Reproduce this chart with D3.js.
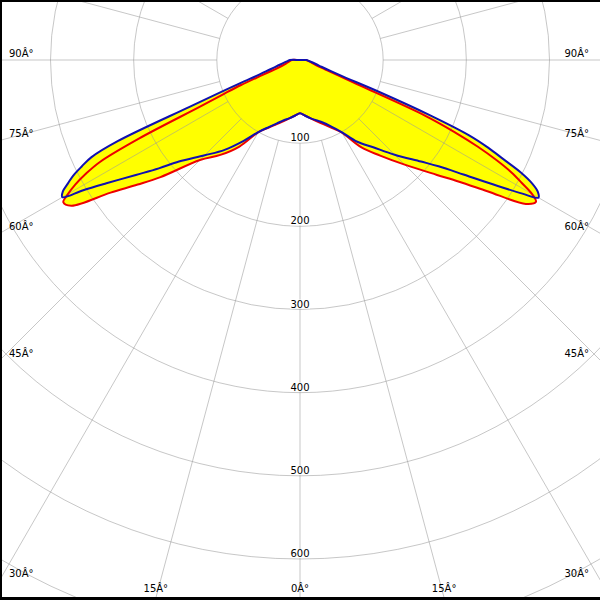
<!DOCTYPE html>
<html>
<head>
<meta charset="utf-8">
<script src="https://cdn.jsdelivr.net/npm/d3@7/dist/d3.min.js"></script>
<style>
  html, body { margin: 0; padding: 0; background: #fff; }
  svg { display: block; }
  text { font-family: "DejaVu Sans", sans-serif; font-size: 10px; fill: #000; }
</style>
</head>
<body>
<div id="chart"></div>
<script>
// Vertical angles (gamma, degrees from nadir)
const gammaAngles = [0,5,10,15,20,25,30,35,40,45,50,52.5,55,57.5,59,60,61,62,63,64,65,66,67,68,69,70,72.5,75,80,85,90,180];
// Blue curve (C0 plane on the right, C180 on the left), cd
const c0Values   = [64,67,71,75,80,88,100,120,137,161,190,210,240,282,312,331,327,316,298,272,250,222,168,105,55,41,27,21,14,10,8,0];
const c180Values = [64,67,71,75,81,89,100,119,141,162,190,214,241,276,304,330,326,316,306,292,277,240,145,100,72,55,38,29,20,15,12,0];
// Red curve (C90 plane on the right, C270 on the left), cd
const c90Values  = [64,67,71,76,82,90,101,128,150,178,215,240,275,322,331,322,305,288,265,238,205,165,75,48,35,28,20,16,12,9,7,0];
const c270Values = [64,67,71,76,82,90,100,127,149,170,219,246,278,326,332,322,309,292,270,215,132,100,77,52,37,30,22,18,14,12,10,0];
// Grid
const ringValues = [100,200,300,400,500,600,700];
const ringLabels = ["100","200","300","400","500","600"];
const angleTicks = [0,15,30,45,60,75,90];
const angleLabels = ["0Â°","15Â°","30Â°","45Â°","60Â°","75Â°","90Â°"];

const W = 600, H = 600, cx = 300, cy = 60, bottom = 598;
const rScale = d3.scaleLinear().domain([0, 600]).range([0, 499]);
const rad = d => d * Math.PI / 180;

const svg = d3.select("#chart").append("svg").attr("width", W).attr("height", H);
svg.append("rect").attr("width", W).attr("height", H).attr("fill", "#fff");
svg.append("defs").append("clipPath").attr("id", "clip")
  .append("rect").attr("x", 0).attr("y", 0).attr("width", W).attr("height", bottom);

const plot = svg.append("g").attr("clip-path", "url(#clip)");
const g = plot.append("g").attr("transform", `translate(${cx},${cy})`);

function curvePoints(rightVals, leftVals) {
  const pts = [];
  for (let i = gammaAngles.length - 1; i >= 0; i--) pts.push([Math.PI + rad(gammaAngles[i]), rScale(leftVals[i])]);
  for (let i = 1; i < gammaAngles.length - 1; i++) pts.push([Math.PI - rad(gammaAngles[i]), rScale(rightVals[i])]);
  return pts;
}
const line = d3.lineRadial().angle(d => d[0]).radius(d => d[1]).curve(d3.curveCatmullRomClosed.alpha(0.5));
const bluePts = curvePoints(c0Values, c180Values);
const redPts = curvePoints(c90Values, c270Values);

// Fill (union)
g.append("path").attr("d", line(bluePts)).attr("fill", "#ffff00");
g.append("path").attr("d", line(redPts)).attr("fill", "#ffff00");

// Grid over fill
const grid = g.append("g").attr("stroke", "#999").attr("stroke-opacity", 0.55).attr("fill", "none").attr("stroke-width", 1);
grid.selectAll("circle").data(ringValues).join("circle").attr("r", d => rScale(d));
const spokes = d3.range(0, 360, 15);
grid.selectAll("line").data(spokes).join("line")
  .attr("x1", d => rScale(100) * Math.sin(rad(d)))
  .attr("y1", d => rScale(100) * Math.cos(rad(d)))
  .attr("x2", d => rScale(1000) * Math.sin(rad(d)))
  .attr("y2", d => rScale(1000) * Math.cos(rad(d)));

// Curves
g.append("path").attr("d", line(redPts)).attr("fill", "none").attr("stroke", "#ee0000").attr("stroke-width", 2).attr("stroke-linejoin", "round");
g.append("path").attr("d", line(bluePts)).attr("fill", "none").attr("stroke", "#1010b0").attr("stroke-width", 2).attr("stroke-linejoin", "round");

// Ring labels
ringLabels.forEach((lab, i) => {
  const y = rScale(ringValues[i]) - 2;
  g.append("rect").attr("x", -10).attr("y", y - 8).attr("width", 20).attr("height", 9).attr("fill", "#fff");
  g.append("text").attr("x", 0).attr("y", y).attr("text-anchor", "middle").text(lab);
});

// Angle labels at the frame edges
angleTicks.forEach((a, i) => {
  const sides = a === 0 ? [1] : [-1, 1];
  sides.forEach(s => {
    const sn = Math.sin(rad(a)), cs = Math.cos(rad(a));
    const tx = sn > 1e-9 ? cx / sn : Infinity;
    const ty = cs > 1e-9 ? (bottom - cy) / cs : Infinity;
    let x, y, anchor;
    if (tx < ty) {
      y = cy + tx * cs - 3;
      x = s < 0 ? 9 : 589;
      anchor = s < 0 ? "start" : "end";
    } else {
      x = cx + s * ty * sn;
      y = 592;
      anchor = "middle";
    }
    svg.append("text").attr("x", x).attr("y", y).attr("text-anchor", anchor).text(angleLabels[i]);
  });
});

// Frame
svg.append("rect").attr("x", 0).attr("y", 0).attr("width", W).attr("height", 2).attr("fill", "#000");
svg.append("rect").attr("x", 0).attr("y", 0).attr("width", 2).attr("height", H).attr("fill", "#000");
svg.append("rect").attr("x", 0).attr("y", 597).attr("width", W).attr("height", 3).attr("fill", "#000");
</script>
</body>
</html>
